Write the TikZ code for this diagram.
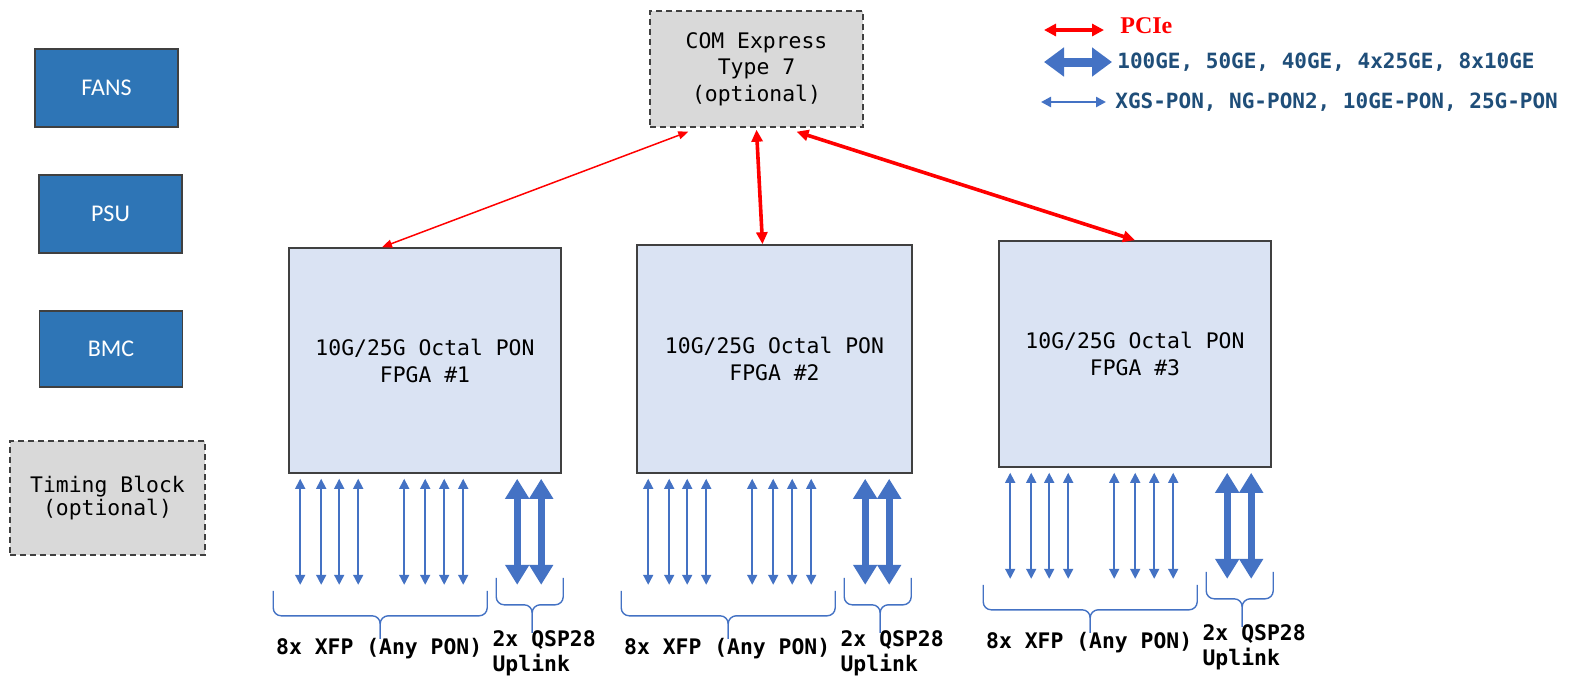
\documentclass[tikz,border=0pt]{standalone}
\usepackage{fontspec}
\setmainfont{DejaVu Sans Mono}
\newfontfamily\calibri{Carlito}
\newfontfamily\timesfont{Liberation Serif}
\usetikzlibrary{arrows.meta}
\definecolor{unitblue}{HTML}{2E75B6}
\definecolor{fpgafill}{HTML}{DAE3F3}
\definecolor{optfill}{HTML}{D9D9D9}
\definecolor{edgegray}{HTML}{404040}
\definecolor{ponblue}{HTML}{4472C4}
\definecolor{legendblue}{HTML}{1F4E79}
\tikzset{unit/.style={draw=edgegray,line width=0.8pt,fill=unitblue,text=white,inner sep=0pt,minimum width=71.5pt,minimum height=39pt,font=\calibri\fontsize{12}{14}\selectfont}}
\tikzset{optional/.style={draw=edgegray,line width=0.7pt,dash pattern=on 3pt off 2pt,fill=optfill,inner sep=0pt,align=center}}
\tikzset{fpga/.style={draw=edgegray,line width=0.8pt,fill=fpgafill,inner sep=0pt,align=center,font=\fontsize{10.7}{13.5}\selectfont}}
\tikzset{pon/.style={ponblue,line width=0.8pt,>={Triangle[width=5pt,length=5pt]},<->}}
\tikzset{uplink/.style={ponblue,line width=3.5pt,>={Triangle[width=11.5pt,length=10pt]},<->}}
\tikzset{pcie/.style={red,line width=1.8pt,>={Triangle[width=5.5pt,length=6pt]},<->}}
\tikzset{ponbrace/.style={ponblue,line width=0.7pt,rounded corners=4pt}}
\tikzset{portlabel/.style={inner sep=0pt,font=\bfseries\fontsize{10.7}{12.5}\selectfont}}
\tikzset{legendtext/.style={anchor=west,inner sep=0pt,text=legendblue,font=\bfseries\fontsize{10.5}{12}\selectfont}}

\begin{document}
\begin{tikzpicture}[x=0.5pt,y=-0.5pt]
    \useasboundingbox[fill=white] (0,0) rectangle (1585,677);
    % left column
    \node[unit] (fans) at (106.5,88) {FANS};
    \node[unit] (psu) at (110.5,214) {PSU};
    \node[unit,minimum height=38pt] (bmc) at (111,349) {BMC};
    \node[optional,minimum width=97.5pt,minimum height=57pt,font=\fontsize{10.7}{11.5}\selectfont] (timing) at (107.5,498) {Timing Block\\(optional)};
    % host and FPGAs
    \node[optional,minimum width=106.5pt,minimum height=58pt,font=\fontsize{10.7}{13.3}\selectfont] (com) at (756.5,69) {COM Express\\Type 7\\(optional)};
    \node[fpga,minimum width=136pt,minimum height=112.5pt] (fpga1) at (425,360.5) {10G/25G Octal PON\\FPGA \#1};
    \node[fpga,minimum width=137.5pt,minimum height=114pt] (fpga2) at (774.5,359) {10G/25G Octal PON\\FPGA \#2};
    \node[fpga,minimum width=136pt,minimum height=113pt] (fpga3) at (1135,354) {10G/25G Octal PON\\FPGA \#3};
    \draw[pcie,line width=0.75pt,>={Triangle[width=4pt,length=5pt]}] ([shift={(39,4)}]com.south west) -- ([xshift=-21.5pt]fpga1.north);
    \draw[pcie] ([yshift=-1pt]com.south) -- ([xshift=-6pt]fpga2.north);
    \draw[pcie] ([shift={(40,4)}]com.south) -- (fpga3.north);
    % ports below each FPGA
    \foreach \f in {1,2,3}{
      \foreach \dx in {12,33,51,70,116,137,156,175}{
        \coordinate (t\f-\dx) at ([shift={(\dx,5)}]fpga\f.south west);
        \coordinate (b\f-\dx) at ([shift={(\dx,111)}]fpga\f.south west);
        \draw[pon] (t\f-\dx) -- (b\f-\dx);
      }
      \foreach \dx in {229,253}{
        \coordinate (t\f-\dx) at ([shift={(\dx,5)}]fpga\f.south west);
        \coordinate (b\f-\dx) at ([shift={(\dx,111)}]fpga\f.south west);
        \draw[uplink] (t\f-\dx) -- (b\f-\dx);
      }
      % braces
      \draw[ponbrace] ([shift={(-15,117)}]fpga\f.south west) -- ([shift={(-15,142)}]fpga\f.south west) -- ([shift={(92,142)}]fpga\f.south west) -- ([shift={(92,165)}]fpga\f.south west);
      \draw[ponbrace] ([shift={(199,117)}]fpga\f.south west) -- ([shift={(199,142)}]fpga\f.south west) -- ([shift={(92,142)}]fpga\f.south west) -- ([shift={(92,165)}]fpga\f.south west);
      \draw[ponbrace] ([shift={(208,104)}]fpga\f.south west) -- ([shift={(208,131)}]fpga\f.south west) -- ([shift={(244,131)}]fpga\f.south west) -- ([shift={(244,159)}]fpga\f.south west);
      \draw[ponbrace] ([shift={(275,104)}]fpga\f.south west) -- ([shift={(275,131)}]fpga\f.south west) -- ([shift={(244,131)}]fpga\f.south west) -- ([shift={(244,159)}]fpga\f.south west);
      \node[portlabel] (xfp\f) at ([shift={(91,175)}]fpga\f.south west) {8x XFP (Any PON)};
      \node[portlabel,anchor=west,align=left] (qsp\f) at ([shift={(204,179)}]fpga\f.south west) {2x QSP28\\Uplink};
    }
    % legend
    \coordinate (lpa) at (1044,30);
    \coordinate (lpb) at (1104,30);
    \draw[pcie,line width=2pt,>={Triangle[width=6pt,length=6pt]}] (lpa) -- (lpb);
    \node[anchor=west,inner sep=0pt,text=red,font=\timesfont\bfseries\fontsize{12}{14}\selectfont] (lpcie) at (1120,26) {PCIe};
    \coordinate (lua) at (1044,62);
    \coordinate (lub) at (1112,62);
    \draw[uplink,line width=4.5pt,>={Triangle[width=14pt,length=10pt]}] (lua) -- (lub);
    \node[legendtext] (lup) at (1117,62) {100GE, 50GE, 40GE, 4x25GE, 8x10GE};
    \coordinate (lna) at (1041,102);
    \coordinate (lnb) at (1106,102);
    \draw[pon,line width=1.2pt] (lna) -- (lnb);
    \node[legendtext] (lpon) at (1115,102) {XGS-PON, NG-PON2, 10GE-PON, 25G-PON};
  \end{tikzpicture}
\end{document}
